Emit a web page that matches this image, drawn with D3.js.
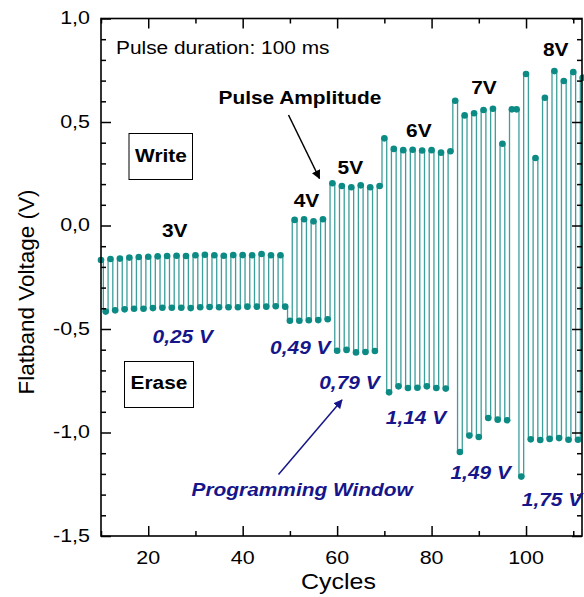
<!DOCTYPE html>
<html>
<head>
<meta charset="utf-8">
<script src="https://cdn.jsdelivr.net/npm/d3@7"></script>
<style>
  body { margin: 0; background: #fff; }
  svg { display: block; }
</style>
</head>
<body>
<svg id="chart" width="584" height="597"></svg>
<script>
// Flatband voltage per cycle (write / erase alternating)
const cycles = [
  10, 11, 12, 13, 14, 15, 16, 17, 18, 19, 20, 21, 22, 23, 24, 25, 26, 27, 28, 29,
  30, 31, 32, 33, 34, 35, 36, 37, 38, 39, 40, 41, 42, 43, 44, 45, 46, 47, 48, 49,
  50, 51, 52, 53, 54, 55, 56, 57, 58, 59, 60, 61, 62, 63, 64, 65, 66, 67, 68, 69,
  70, 71, 72, 73, 74, 75, 76, 77, 78, 79, 80, 81, 82, 83, 84, 85, 86, 87, 88, 89,
  90, 91, 92, 93, 94, 95, 96, 97, 98, 99, 100, 101, 102, 103, 104, 105, 106, 107, 108, 109,
  110, 111, 112
];
const flatband = [
  -0.167, -0.416, -0.162, -0.410, -0.160, -0.405, -0.155, -0.402, -0.152, -0.402,
  -0.151, -0.399, -0.149, -0.397, -0.147, -0.397, -0.146, -0.397, -0.147, -0.399,
  -0.144, -0.395, -0.141, -0.394, -0.144, -0.395, -0.146, -0.395, -0.143, -0.395,
  -0.143, -0.392, -0.144, -0.392, -0.138, -0.392, -0.144, -0.390, -0.144, -0.392,
  -0.460, 0.027, -0.460, 0.030, -0.458, 0.020, -0.457, 0.030, -0.453,
  0.204, -0.605, 0.191, -0.601, 0.185, -0.613, 0.194, -0.611, 0.185, -0.606, 0.191,
  0.421, -0.806, 0.370, -0.777, 0.364, -0.785, 0.366, -0.784, 0.362, -0.777,
  0.364, -0.785, 0.352, -0.788, 0.359,
  0.603, -1.094, 0.532, -1.015, 0.542, -1.022, 0.558, -0.930, 0.564, -0.938,
  0.395, -0.941, 0.561, 0.561,
  -1.213, 0.732, -1.033, 0.326, -1.036, 0.617, -1.031, 0.746, -1.027, 0.698,
  -1.035, 0.741, -1.035, 0.714
];

const xTicks = [20, 40, 60, 80, 100];
const xMinor = [10, 30, 50, 70, 90, 110];
const yTicks = [-1.5, -1.0, -0.5, 0.0, 0.5, 1.0];
const yTickLabels = ["-1,5", "-1,0", "-0,5", "0,0", "0,5", "1,0"];
const yMinor = [-1.4, -1.3, -1.2, -1.1, -0.9, -0.8, -0.7, -0.6, -0.4, -0.3, -0.2, -0.1,
  0.1, 0.2, 0.3, 0.4, 0.6, 0.7, 0.8, 0.9];

const amplitudes = ["3V", "4V", "5V", "6V", "7V", "8V"];
const amplitudePos = [[25.6, -0.057], [53.5, 0.091], [62.8, 0.249], [77.3, 0.429], [91.1, 0.635], [106.3, 0.818]];
const windows = ["0,25 V", "0,49 V", "0,79 V", "1,14 V", "1,49 V", "1,75 V"];
const windowPos = [[27.3, -0.569], [52.2, -0.622], [62.6, -0.792], [76.7, -0.960], [90.4, -1.223], [105.5, -1.355]];

const svg = d3.select('#chart');
const plotL = 101, plotR = 582, plotT = 18.5, plotB = 536;

const x = d3.scaleLinear().domain([10, 112]).range([plotL, plotR + 0.7]);
const y = d3.scaleLinear().domain([-1.5, 1.0]).range([plotB, plotT]);

const SX = 1.16;   // the original is slightly stretched horizontally
const teal = '#0c8a84';
const tealLine = '#3d9f9a';
const navy = '#16168a';
const font = 'Liberation Sans, Arial, Helvetica, sans-serif';

function addText(g, px, py, str, size, opts = {}) {
  return g.append('text')
    .attr('transform', `translate(${px},${py}) scale(${opts.sx || SX},1)`)
    .attr('text-anchor', opts.anchor || 'start')
    .style('font-family', font)
    .style('font-size', size + 'px')
    .style('font-weight', opts.weight || 'normal')
    .style('font-style', opts.style || 'normal')
    .style('fill', opts.fill || '#000')
    .text(str);
}

// arrow heads
const defs = svg.append('defs');
[['arrBlack', '#000'], ['arrBlue', navy]].forEach(([id, c]) => {
  defs.append('marker')
    .attr('id', id)
    .attr('viewBox', '0 0 10 10')
    .attr('refX', 9).attr('refY', 5)
    .attr('markerWidth', 9).attr('markerHeight', 9)
    .attr('markerUnits', 'userSpaceOnUse')
    .attr('orient', 'auto')
    .append('path')
    .attr('d', 'M0,0 L10,5 L0,10 Z')
    .attr('fill', c);
});

// data line (step, transitions half way between cycles)
const line = d3.line()
  .x((d, i) => x(cycles[i]))
  .y(d => y(d))
  .curve(d3.curveStep);

svg.append('path')
  .datum(flatband)
  .attr('d', line)
  .attr('fill', 'none')
  .attr('stroke', tealLine)
  .attr('stroke-width', 1.3);

svg.append('g')
  .selectAll('circle')
  .data(flatband)
  .enter().append('circle')
  .attr('cx', (d, i) => x(cycles[i]))
  .attr('cy', d => y(d))
  .attr('r', 3.3)
  .attr('fill', teal);

// axes, ticks pointing inside
function tickAxis(axis, pos, vals, size) {
  const g = svg.append('g')
    .attr('transform', pos)
    .call(axis.tickValues(vals).tickSize(size).tickFormat(''));
  g.selectAll('line').attr('stroke', '#000').attr('stroke-width', 1.5);
  g.select('.domain').remove();
  return g;
}
tickAxis(d3.axisBottom(x), `translate(0,${plotB})`, xTicks, -10);
tickAxis(d3.axisBottom(x), `translate(0,${plotB})`, xMinor, -5);
tickAxis(d3.axisTop(x), `translate(0,${plotT})`, xTicks, -10);
tickAxis(d3.axisTop(x), `translate(0,${plotT})`, xMinor, -5);
tickAxis(d3.axisLeft(y), `translate(${plotL},0)`, yTicks, -10);
tickAxis(d3.axisLeft(y), `translate(${plotL},0)`, yMinor, -5);
tickAxis(d3.axisRight(y), `translate(${plotR},0)`, yTicks, -10);
tickAxis(d3.axisRight(y), `translate(${plotR},0)`, yMinor, -5);

svg.append('rect')
  .attr('x', plotL).attr('y', plotT)
  .attr('width', plotR - plotL).attr('height', plotB - plotT)
  .attr('fill', 'none').attr('stroke', '#000').attr('stroke-width', 1.6);

// tick labels
const labels = svg.append('g');
xTicks.forEach(t => addText(labels, x(t), 563.5, String(t), 18.5, { anchor: 'middle' }));
yTicks.forEach((t, i) => addText(labels, 90, y(t) + 5.5, yTickLabels[i], 18.5, { anchor: 'end' }));

addText(labels, 338.5, 589, 'Cycles', 21.5, { anchor: 'middle' });
svg.append('text')
  .attr('transform', 'translate(33.5,292) rotate(-90)')
  .attr('text-anchor', 'middle')
  .style('font-family', font)
  .style('font-size', '22.5px')
  .text('Flatband Voltage (V)');

// annotations
const ann = svg.append('g');
addText(ann, 116, 53.5, 'Pulse duration: 100 ms', 18);
addText(ann, 218.5, 104, 'Pulse Amplitude', 18, { weight: 'bold' });
ann.append('line')
  .attr('x1', 288.5).attr('y1', 115).attr('x2', 319.5).attr('y2', 178.5)
  .attr('stroke', '#000').attr('stroke-width', 1.5)
  .attr('marker-end', 'url(#arrBlack)');

ann.append('rect')
  .attr('x', 129).attr('y', 133.5).attr('width', 63.5).attr('height', 46)
  .attr('fill', '#fff').attr('stroke', '#000').attr('stroke-width', 1);
addText(ann, 161, 162, 'Write', 18, { weight: 'bold', anchor: 'middle' });
ann.append('rect')
  .attr('x', 124.5).attr('y', 361.5).attr('width', 69).attr('height', 46)
  .attr('fill', '#fff').attr('stroke', '#000').attr('stroke-width', 1);
addText(ann, 159, 388.5, 'Erase', 18, { weight: 'bold', anchor: 'middle' });

amplitudes.forEach((a, i) =>
  addText(ann, x(amplitudePos[i][0]), y(amplitudePos[i][1]), a, 18, { weight: 'bold', anchor: 'middle' }));
windows.forEach((w, i) =>
  addText(ann, x(windowPos[i][0]), y(windowPos[i][1]), w, 18, { weight: 'bold', style: 'italic', anchor: 'middle', fill: navy }));

addText(ann, 191.5, 496, 'Programming Window', 18, { weight: 'bold', style: 'italic', fill: navy });
ann.append('line')
  .attr('x1', 278.5).attr('y1', 474.5).attr('x2', 342).attr('y2', 400)
  .attr('stroke', navy).attr('stroke-width', 1.5)
  .attr('marker-end', 'url(#arrBlue)');
</script>
</body>
</html>
